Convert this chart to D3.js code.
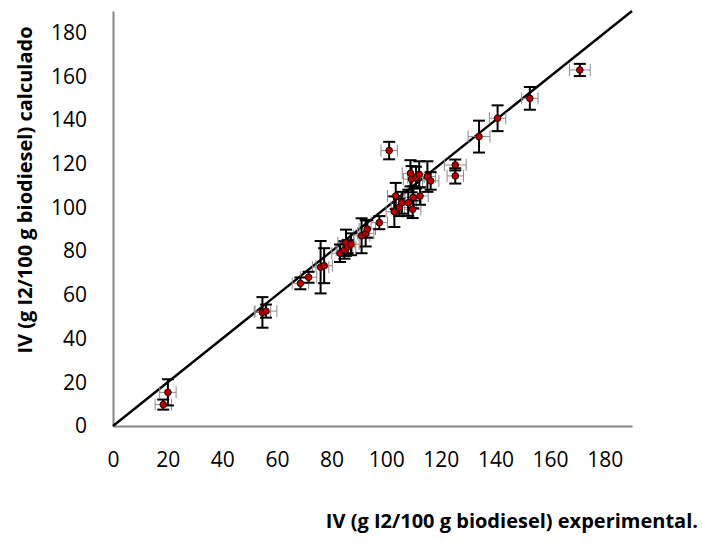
<!DOCTYPE html>
<html lang="en">
<head>
<meta charset="UTF-8">
<title>IV calculado vs experimental</title>
<script src="https://d3js.org/d3.v7.min.js"></script>
<style>
    body { margin: 0; background: #fff; }
    .tick text { font-family: "Open Sans", sans-serif; font-size: 21px; fill: #000; }
    .title { font-family: "Open Sans", sans-serif; font-weight: bold; font-size: 20px; fill: #000; }
</style>
</head>
<body>
<div id="chart"></div>
<script>
    // values
    const ivExp  = [18.4, 20.1, 54.7, 56.0, 68.6, 71.6, 76.0, 77.3, 83.1, 84.7, 85.3, 85.9, 87.1, 91.0, 92.5, 93.1, 97.5,
                    103.0, 104.8, 105.7, 108.1, 109.7, 103.5, 109.9, 112.4, 101.1, 108.9, 109.3, 110.9, 112.1, 115.1, 116.3,
                    125.3, 125.3, 134.0, 140.8, 152.6, 170.9];
    const ivCalc = [9.8, 15.4, 52.0, 52.6, 65.3, 68.1, 72.7, 73.4, 79.1, 80.6, 83.9, 82.1, 83.2, 87.1, 88.2, 90.2, 93.1,
                    98.1, 100.1, 102.2, 102.2, 99.2, 105.3, 104.7, 105.3, 126.1, 115.7, 113.0, 113.7, 115.2, 114.2, 112.2,
                    119.5, 114.5, 132.5, 140.9, 150.0, 163.0];
    const errCalc = [2.3, 6, 7, 3, 2.7, 2.5, 12, 8, 4, 4, 6, 3, 5, 8, 6, 4, 3,
                     7, 4, 5, 6, 4, 6, 5, 4, 4, 6, 6, 5, 6, 7, 4,
                     2.5, 3.5, 7.3, 5.9, 5.2, 2.8];
    const errExp = [3, 3, 3, 4, 3, 3, 3, 3, 3, 3, 3, 3, 3, 3, 3, 3, 3,
                    3, 3, 3, 3, 3, 3, 3, 3, 3, 3, 3, 3, 3, 3, 3,
                    4, 3, 4, 3, 3, 3.8];
    const tickValues = [0, 20, 40, 60, 80, 100, 120, 140, 160, 180];
    const identity = [0, 190];

    const width = 702, height = 548;
    const svg = d3.select("#chart").append("svg")
        .attr("width", width)
        .attr("height", height);

    const x = d3.scaleLinear().domain([0, 190]).range([113, 632]);
    const y = d3.scaleLinear().domain([0, 190]).range([426, 11]);

    const data = ivExp.map((d, i) => ({ x: d, y: ivCalc[i], ey: errCalc[i], ex: errExp[i] }));

    // axes
    const xAxis = svg.append("g")
        .attr("transform", `translate(0,${y(0)})`)
        .call(d3.axisBottom(x).tickValues(tickValues).tickSize(0).tickSizeOuter(0));
    xAxis.selectAll(".tick text").attr("y", 34).attr("dy", "0.35em");

    const yAxis = svg.append("g")
        .attr("transform", `translate(${x(0)},0)`)
        .call(d3.axisLeft(y).tickValues(tickValues).tickSize(0).tickSizeOuter(0).tickPadding(26));

    svg.selectAll(".domain").attr("stroke", "#868686").attr("stroke-width", 2);

    // y = x line
    svg.append("line")
        .attr("x1", x(identity[0])).attr("y1", y(identity[0]))
        .attr("x2", x(identity[1])).attr("y2", y(identity[1]))
        .attr("stroke", "#000").attr("stroke-width", 2.4);

    // horizontal error bars (grey)
    const hx = svg.append("g").attr("stroke", "#8c8c8c").attr("stroke-width", 1);
    data.forEach(d => {
        hx.append("line").attr("x1", x(d.x - d.ex)).attr("x2", x(d.x + d.ex)).attr("y1", y(d.y)).attr("y2", y(d.y));
        hx.append("line").attr("x1", x(d.x - d.ex)).attr("x2", x(d.x - d.ex)).attr("y1", y(d.y) - 6).attr("y2", y(d.y) + 6);
        hx.append("line").attr("x1", x(d.x + d.ex)).attr("x2", x(d.x + d.ex)).attr("y1", y(d.y) - 6).attr("y2", y(d.y) + 6);
    });

    // vertical error bars (black)
    const vy = svg.append("g").attr("stroke", "#000").attr("stroke-width", 2);
    data.forEach(d => {
        vy.append("line").attr("x1", x(d.x)).attr("x2", x(d.x)).attr("y1", y(d.y - d.ey)).attr("y2", y(d.y + d.ey));
        vy.append("line").attr("x1", x(d.x) - 6).attr("x2", x(d.x) + 6).attr("y1", y(d.y - d.ey)).attr("y2", y(d.y - d.ey));
        vy.append("line").attr("x1", x(d.x) - 6).attr("x2", x(d.x) + 6).attr("y1", y(d.y + d.ey)).attr("y2", y(d.y + d.ey));
    });

    // points
    svg.append("g").selectAll("circle")
        .data(data)
        .join("circle")
        .attr("cx", d => x(d.x))
        .attr("cy", d => y(d.y))
        .attr("r", 3.3)
        .attr("fill", "#c00000")
        .attr("stroke", "#1a0000")
        .attr("stroke-width", 1);

    // titles
    svg.append("text")
        .attr("class", "title")
        .attr("transform", "translate(32,190) rotate(-90)")
        .attr("text-anchor", "middle")
        .text("IV (g I2/100 g biodiesel) calculado");

    svg.append("text")
        .attr("class", "title")
        .attr("x", 698).attr("y", 528)
        .attr("text-anchor", "end")
        .text("IV (g I2/100 g biodiesel) experimental.");
</script>
</body>
</html>
